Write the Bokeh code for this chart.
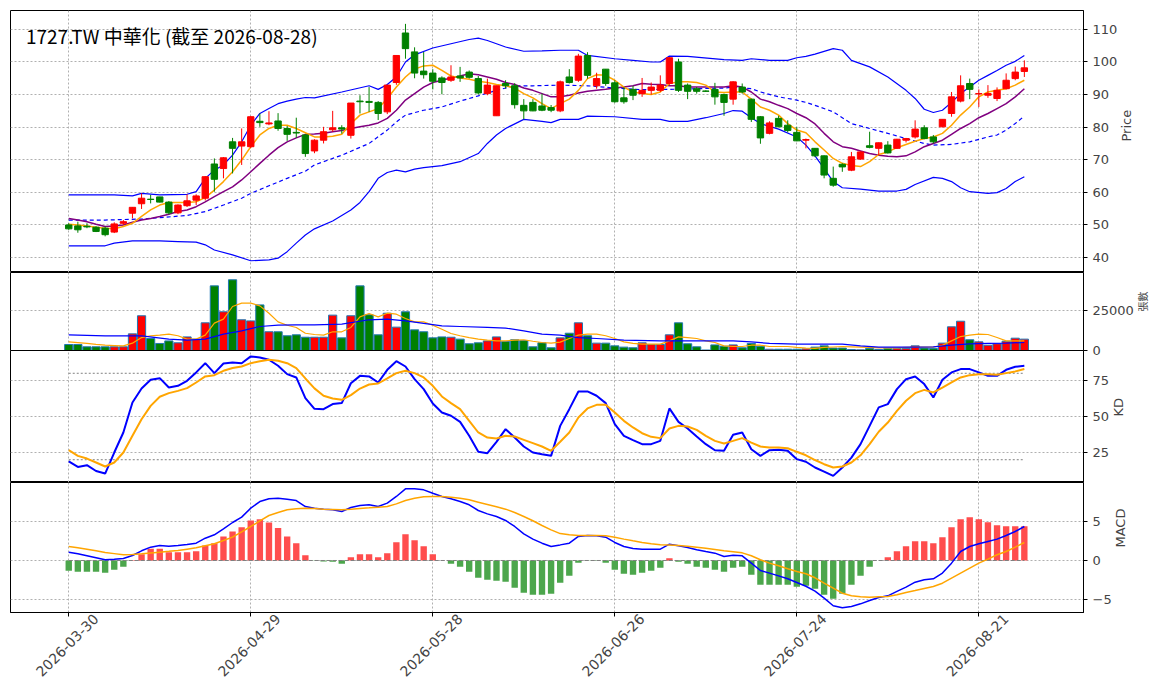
from math import pi

from bokeh.embed import file_html
from bokeh.layouts import column
from bokeh.models import ColumnDataSource, FixedTicker, Label, LinearAxis, Range1d
from bokeh.plotting import figure
from bokeh.resources import INLINE

title = "1727.TW 中華化 (截至 2026-08-28)"
tick_idx = [0, 20, 40, 60, 80, 100]
tick_dates = ["2026-03-30", "2026-04-29", "2026-05-28", "2026-06-26", "2026-07-24", "2026-08-21"]

open_ = [50, 49.7, 49.6, 49.3, 49, 47.8, 50.5, 53.6, 56.5, 57.9, 58.6, 57, 53.7, 55.9, 57.6, 58.2,
         68.7, 67.3, 75.5, 74.2, 74, 81.8, 81, 81.9, 79.6, 78.4, 77.6, 72.7, 76, 79.2, 79.8, 77.5,
         88, 87.9, 87.6, 84.7, 93.7, 108.9, 103.1, 97.2, 96.6, 95.1, 94.4, 95.7, 96.9, 94.9, 90.3,
         83.5, 93.4, 92.7, 86.7, 87.6, 86.5, 86, 85, 95.4, 94.4, 102, 92.7, 97.8, 93.6, 89, 91.6,
         90.3, 91.3, 91.3, 93.4, 100, 92.9, 91.8, 91.1, 91.6, 90, 88.6, 92.3, 88.6, 83.2, 78.1,
         82.7, 80.6, 78.4, 76, 73.5, 71.2, 64.3, 68.6, 66.8, 70.2, 74.3, 73.5, 74.5, 73.5, 76, 77,
         79.8, 77, 80.1, 84.2, 88, 93.4, 90.2, 89.8, 88.8, 91.8, 94.9, 97.1]
high = [50.5, 51, 50.5, 49.6, 49.5, 50.8, 51.5, 55.5, 59.7, 59.2, 58.6, 57.3, 56.3, 59.4, 59.4, 65,
        70.4, 70.8, 76.7, 79.6, 83.4, 84.2, 84.9, 84.3, 80.4, 82.9, 77.8, 76.3, 80.1, 85, 80.6, 87.4,
        89.8, 92.3, 88, 93, 102, 111.7, 104.5, 103.1, 97.8, 95.6, 99, 98.5, 97.4, 95.7, 94.9,
        92.7, 94.4, 93.5, 88.6, 88.6, 90.3, 86.8, 94.3, 97.8, 102.5, 103, 96.7, 97.8, 94.4, 92.3,
        92.7, 95.1, 93.7, 95.9, 101.5, 101, 93.4, 92.3, 91.3, 93.6, 90.3, 94.1, 93.4, 88.7, 83.4,
        81.8, 83.5, 82.1, 80.1, 76.5, 73.6, 71.3, 67.9, 68.9, 72.4, 72.6, 78.6, 75.3, 75.7, 76.4,
        76.7, 82.1, 80.6, 77.6, 82.4, 90.8, 95.9, 94.9, 91.6, 92.9, 92.2, 96.5, 98.6, 100.5]
low = [48.5, 47.6, 49, 47.8, 46.5, 47.5, 50, 52, 54.9, 56.6, 56.9, 53.2, 53.3, 55.5, 56.1, 57.5,
       60.2, 64.3, 65.8, 68.4, 73.6, 80.1, 80.6, 78.9, 75.8, 76.7, 70.9, 72, 75, 78.6, 78, 76.5,
       84.2, 84.7, 82.2, 84, 93, 101, 95, 94.9, 91.6, 90.1, 93.9, 93.9, 94.9, 90, 89.8,
       83.5, 91.8, 85.7, 82.4, 84.9, 84.9, 84.6, 84.6, 93.4, 93.9, 94.9, 91.8, 92.7, 87.5, 87.2,
       88.3, 89.3, 90, 90.8, 93, 90.8, 88.6, 90.3, 90.8, 86.9, 83.5, 86.9, 90.3, 81.6, 74.9,
       77.8, 80.1, 78.4, 75.7, 73.5, 70.8, 64.3, 61.7, 66.3, 66.5, 70, 73.5, 71.4, 71.9, 73.4,
       75.3, 76.5, 76.3, 75, 80, 83.2, 87.6, 88.6, 86.2, 89, 88, 91.6, 94.4, 95.4]
close = [48.8, 48.5, 49.4, 48, 47, 50.3, 51, 55.4, 58.2, 57.8, 57, 53.7, 56.1, 57.4, 58.9, 64.8,
         64, 70.6, 73.5, 75.5, 83.2, 81.4, 81.3, 79.6, 77.8, 78.2, 71.9, 76, 78.6, 79.8, 79.4, 87.4,
         87.8, 87.6, 84.2, 92.9, 102, 104.1, 96.6, 96.1, 94.1, 93.7, 95.4, 95.1, 95.3, 90.5, 92.9,
         92.7, 92.7, 86.9, 85, 85, 85.2, 85.2, 93.9, 93.7, 101.8, 95.9, 94.9, 93.4, 87.8, 87.8,
         89.8, 91.3, 92.3, 92.9, 101.3, 91.3, 91, 91, 91, 89.3, 87.6, 93.9, 90.8, 82.4, 76.7,
         81.3, 80.1, 79, 75.8, 76.2, 71.2, 65.3, 62.2, 67.8, 70.9, 72.4, 73.8, 75.2, 72.1, 76.3,
         76.5, 79.4, 76.5, 75.5, 82.4, 89.3, 92.7, 91.6, 90.3, 90.3, 91.3, 94.4, 96.9, 98.2]

ma_orange = [50.2, 50.0, 49.7, 49.3, 49.0, 48.8, 49.5, 50.5, 52.6, 54.6, 56.1, 56.9, 56.9, 56.9,
             57.1, 58.4, 60.7, 63.3, 66.3, 69.9, 74.0, 77.6, 79.6, 80.6, 80.6, 79.6, 78.3, 77.0,
             77.0, 77.2, 77.8, 81.1, 83.7, 84.7, 85.7, 88.8, 92.3, 95.4, 97.8, 98.8, 99.0, 97.4,
             95.7, 95.1, 94.7, 94.1, 93.7, 93.1, 92.7, 92.0, 90.3, 89.0, 87.2, 85.7, 87.2, 88.6,
             91.3, 94.9, 96.1, 95.9, 94.4, 92.3, 90.8, 90.3, 90.0, 90.8, 93.4, 93.9, 93.9, 93.7,
             92.9, 90.8, 90.6, 90.8, 90.8, 88.6, 86.2, 85.2, 83.7, 81.1, 79.1, 78.3, 75.5, 73.0,
             70.4, 68.9, 68.2, 67.9, 69.4, 71.6, 72.4, 73.7, 74.7, 75.7, 76.5, 77.0, 78.1, 80.6,
             83.7, 86.2, 89.3, 90.8, 91.3, 91.8, 92.9, 94.4]
ma_purple = [52.0, 51.5, 51.0, 50.2, 49.5, 49.7, 50.0, 50.8, 51.5, 52.0, 52.6, 53.3, 54.1, 54.6,
             55.6, 57.1, 58.7, 60.2, 61.7, 63.8, 66.3, 68.9, 71.4, 73.7, 75.5, 76.7, 77.8, 77.9,
             78.1, 78.6, 79.0, 79.6, 80.1, 80.6, 81.3, 82.7, 85.2, 88.3, 90.3, 92.3, 93.7, 94.4,
             95.1, 95.7, 96.4, 96.1, 95.4, 94.7, 93.7, 93.1, 92.0, 91.3, 90.3, 89.3, 89.3, 89.8,
             90.5, 91.0, 91.3, 91.6, 92.0, 92.3, 92.7, 93.4, 93.2, 93.1, 92.7, 92.7, 92.3, 92.3,
             92.3, 92.3, 92.3, 92.7, 92.3, 90.8, 88.6, 87.8, 86.7, 85.7, 84.2, 82.9, 81.0, 78.1,
             75.5, 74.0, 73.5, 72.7, 71.9, 71.4, 71.1, 70.9, 71.2, 72.4, 74.0, 75.0, 76.0, 77.8,
             79.6, 81.1, 82.9, 84.2, 85.7, 87.2, 89.3, 91.8]

bb_up_x = [0, 5, 7, 8, 10, 13, 14, 15, 16, 17, 18, 19, 20, 21, 22, 23, 24, 25, 26, 27, 30, 33, 34,
           35, 36, 37, 38, 40, 42, 44, 45, 46, 48, 50, 52, 54, 56, 57, 60, 62, 64, 65, 66, 68, 72,
           74, 75, 77, 79, 80, 81, 82, 84, 85, 86, 88, 90, 92, 93, 94, 95, 96, 97, 98, 99, 100,
           101, 102, 103, 104, 105]
bb_up = [59.2, 59.2, 58.9, 59.7, 59.2, 59.4, 60.2, 64.3, 66.8, 68.4, 71.4, 75.5, 80.6, 84.2, 85.7,
         87.2, 88.0, 88.6, 89.1, 89.0, 90.8, 92.7, 91.6, 93.1, 95.4, 100.0, 102.2, 104.3, 105.6,
         106.9, 107.3, 106.6, 104.6, 103.3, 103.4, 103.6, 103.6, 102.0, 101.0, 100.5, 100.0, 100.0,
         101.8, 101.7, 100.7, 100.5, 101.0, 100.5, 100.5, 101.3, 101.7, 102.4, 104.1, 103.6, 100.5,
         98.5, 95.4, 91.3, 88.8, 85.5, 84.5, 85.2, 87.6, 90.3, 92.3, 94.4, 95.9, 97.4, 99.0, 100.2,
         102.0]
bb_mid_x = [0, 4, 8, 13, 15, 17, 19, 20, 22, 24, 26, 27, 30, 33, 35, 36, 37, 39, 41, 43, 45, 47,
            49, 51, 54, 57, 60, 63, 66, 69, 72, 73, 75, 76, 78, 80, 81, 82, 84, 86, 88, 90, 92, 94,
            95, 97, 99, 101, 102, 103, 104, 105]
bb_mid = [51.5, 51.5, 51.8, 52.9, 54.1, 56.1, 58.2, 59.7, 62.0, 64.3, 66.5, 68.4, 71.4, 75.0, 79.1,
          81.6, 83.7, 85.2, 86.2, 88.0, 89.6, 91.3, 92.7, 92.7, 92.9, 92.7, 92.0, 91.5, 91.6, 91.8,
          92.0, 92.3, 91.8, 90.8, 89.3, 88.3, 87.6, 86.7, 84.7, 81.1, 79.6, 78.1, 76.5, 75.0, 74.5,
          74.7, 75.5, 77.0, 77.6, 79.1, 81.1, 83.4]
bb_low_x = [0, 4, 5, 7, 10, 12, 14, 15, 16, 18, 20, 22, 23, 24, 25, 26, 27, 29, 31, 32, 33, 34, 35,
            36, 37, 38, 39, 41, 43, 45, 46, 47, 48, 50, 52, 53, 54, 56, 57, 60, 63, 65, 66, 68, 70,
            72, 73, 74, 75, 76, 78, 80, 81, 82, 83, 84, 85, 87, 89, 91, 92, 93, 95, 96, 97, 98, 99,
            101, 102, 103, 104, 105]
bb_low = [43.6, 43.6, 44.4, 45.1, 45.1, 44.9, 44.7, 43.9, 42.3, 40.8, 39.0, 39.3, 39.8, 41.8, 44.4,
          46.9, 48.8, 51.2, 54.6, 56.9, 60.2, 64.3, 66.1, 66.8, 66.3, 67.1, 67.6, 68.2, 69.4, 71.9,
          75.0, 77.6, 79.6, 82.4, 81.8, 81.4, 82.4, 82.4, 83.4, 83.2, 82.4, 82.4, 81.8, 81.8, 82.9,
          84.2, 85.1, 84.9, 82.9, 81.1, 79.4, 77.0, 74.5, 71.2, 67.3, 63.3, 61.4, 61.0, 60.4, 60.4,
          60.9, 62.4, 64.6, 64.3, 63.3, 61.4, 60.2, 59.7, 59.9, 61.2, 63.3, 64.8]

volume = [3750, 3750, 2300, 2300, 2300, 2300, 2300, 10400, 21700, 7500, 4400, 6000, 4800, 8500,
          7100, 17300, 40400, 24200, 44200, 19200, 18500, 28500, 11700, 11700, 9200, 9800, 8300,
          8300, 8300, 22100, 7900, 21700, 40400, 22300, 9800, 23300, 14600, 24200, 12900, 11700,
          7900, 8500, 8300, 7100, 4200, 4800, 6000, 8500, 5600, 6700, 6200, 2300, 4800, 1700, 7900,
          10800, 17300, 9200, 4600, 4600, 2900, 2100, 1700, 4800, 3750, 3750, 9800, 17300, 4200,
          2300, 300, 3500, 2700, 3500, 1700, 4400, 2700, 800, 800, 800, 800, 1000, 2100, 2900,
          1500, 1500, 600, 400, 1200, 600, 1200, 1200, 1200, 2900, 1500, 1200, 4600, 14800, 18300,
          6700, 5400, 3300, 4200, 5800, 7700, 7100]
vol_ma5 = [5400, 4900, 4400, 3800, 3300, 3100, 2900, 4600, 8100, 9200, 9600, 10200, 9200, 7100,
           7100, 9600, 17100, 19600, 27500, 29600, 29600, 27900, 23300, 17900, 15800, 14400, 10800,
           10000, 9600, 11700, 11700, 14400, 21000, 23100, 21000, 23300, 22700, 20000, 17900, 17900,
           15800, 13300, 10600, 9200, 8100, 7100, 6500, 6000, 6000, 6500, 6700, 5800, 5000, 4600,
           5200, 7500, 9600, 10200, 10200, 9200, 7500, 5400, 4400, 4000, 4000, 4000, 6000, 8500,
           8100, 7500, 6000, 5000, 2900, 2500, 2500, 3300, 3300, 2500, 2500, 2500, 1900, 1500, 1300,
           1900, 2200, 2500, 2300, 2100, 1900, 1700, 1700, 1700, 1900, 2100, 2100, 2100, 3300, 6000,
           8700, 9600, 10200, 10000, 8100, 6000, 6000, 6000]
vol_ma20_x = [0, 4, 8, 11, 13, 15, 17, 19, 21, 23, 25, 27, 30, 33, 35, 37, 39, 41, 43, 46, 48, 50,
              52, 54, 56, 58, 61, 65, 69, 73, 75, 77, 80, 82, 85, 87, 89, 93, 95, 97, 99, 101, 103,
              105]
vol_ma20 = [9800, 9200, 9200, 7100, 6500, 7100, 10200, 12300, 15000, 15800, 16000, 16000, 16500,
            19200, 19600, 18500, 16900, 15400, 15000, 14400, 14000, 12300, 10200, 9600, 8100, 7500,
            6500, 6000, 6000, 6000, 5400, 4400, 4000, 4000, 4000, 2900, 2100, 2100, 2300, 3300, 4200,
            4400, 4600, 5000]

k_line = [18.8, 15.0, 16.2, 12.2, 10.4, 25.0, 38.9, 59.7, 69.4, 75.5, 76.6, 70.1, 71.3, 74.8, 80.6,
          87.0, 80.1, 86.8, 87.5, 87.0, 91.7, 91.0, 89.4, 85.2, 79.4, 77.1, 62.8, 55.3, 55.1, 58.6,
          59.3, 73.1, 78.2, 77.8, 73.6, 82.4, 88.4, 84.7, 75.9, 69.0, 59.0, 52.8, 50.5, 46.3, 36.6,
          25.5, 24.5, 32.4, 41.2, 35.4, 29.2, 25.0, 23.8, 22.7, 43.5, 55.1, 67.4, 67.4, 64.4, 59.3,
          44.7, 36.6, 33.6, 30.8, 30.8, 33.1, 55.6, 46.3, 41.7, 36.1, 30.8, 26.6, 26.2, 37.3, 38.9,
          27.3, 22.7, 26.6, 26.9, 26.2, 20.4, 18.6, 14.6, 11.8, 8.8, 14.6, 21.5, 30.8, 43.5, 56.3,
          58.6, 69.0, 75.9, 77.8, 72.5, 63.2, 75.5, 80.6, 82.9, 82.9, 80.6, 78.2, 78.2, 82.4, 84.5,
          85.2]
d_line = [26.6, 22.7, 20.8, 18.1, 15.3, 18.1, 25.0, 36.6, 48.1, 57.4, 63.7, 66.2, 67.8, 69.7, 73.6,
          77.8, 78.7, 81.7, 83.6, 84.7, 87.0, 88.4, 89.4, 88.7, 87.0, 83.6, 76.4, 69.5, 64.4, 62.5,
          61.6, 64.8, 69.4, 72.2, 72.9, 76.4, 80.1, 81.7, 80.1, 77.1, 71.3, 63.9, 59.3, 55.1, 47.0,
          38.9, 35.4, 34.7, 36.6, 36.1, 33.8, 31.5, 29.2, 26.2, 32.5, 38.9, 49.3, 55.6, 58.1, 58.1,
          52.8, 47.0, 42.4, 38.4, 35.9, 35.0, 41.7, 43.5, 43.1, 40.7, 36.6, 33.1, 31.3, 33.1, 35.0,
          31.9, 29.2, 28.5, 28.5, 28.0, 25.5, 23.1, 19.8, 16.9, 14.6, 15.3, 18.1, 23.1, 30.8, 39.4,
          45.8, 53.9, 60.9, 66.2, 68.5, 66.7, 70.1, 73.6, 77.1, 78.7, 79.4, 79.4, 78.9, 80.1, 81.3,
          82.9]

macd_hist = [-1.32, -1.45, -1.45, -1.45, -1.58, -1.2, -0.81, 0.05, 0.81, 1.5, 1.5, 1.07, 1.07, 1.07,
             1.2, 1.92, 2.22, 3.08, 3.72, 4.27, 5.13, 5.3, 4.87, 4.15, 3.08, 2.22, 0.68, -0.02,
             -0.13, -0.17, -0.43, 0.43, 0.81, 0.81, 0.43, 0.94, 2.35, 3.38, 2.61, 1.84, 0.81, 0.0,
             -0.43, -0.81, -1.45, -2.22, -2.48, -2.61, -2.74, -3.5, -4.15, -4.4, -4.4, -4.27, -2.86,
             -1.97, -0.3, -0.04, -0.04, -0.3, -1.2, -1.71, -1.84, -1.58, -1.32, -0.94, 0.3, -0.17,
             -0.43, -0.81, -0.94, -1.2, -1.45, -0.94, -0.81, -1.84, -3.12, -3.12, -3.12, -3.12,
             -3.38, -3.25, -3.63, -4.4, -4.91, -4.27, -3.12, -1.97, -0.81, 0.0, 0.43, 1.2, 1.84,
             2.48, 2.48, 2.22, 2.99, 4.27, 5.3, 5.56, 5.3, 4.91, 4.53, 4.4, 4.4, 4.4]
dif = [1.07, 0.85, 0.6, 0.35, 0.09, 0.15, 0.26, 0.64, 1.24, 1.71, 1.92, 1.84, 1.92, 2.05, 2.22, 2.86,
       3.29, 4.06, 4.87, 5.56, 6.71, 7.56, 7.91, 7.99, 7.86, 7.69, 6.92, 6.71, 6.58, 6.5, 6.28, 6.79,
       7.05, 7.14, 6.92, 7.35, 8.21, 9.19, 9.19, 9.06, 8.63, 8.21, 7.91, 7.56, 7.14, 6.41, 5.98,
       5.64, 5.13, 4.36, 3.42, 2.74, 2.22, 1.79, 2.0, 2.22, 3.08, 3.21, 3.16, 2.99, 2.31, 1.79,
       1.54, 1.45, 1.45, 1.45, 2.09, 1.88, 1.67, 1.37, 1.15, 0.94, 0.51, 0.68, 0.6, -0.34, -1.28,
       -1.62, -1.97, -2.35, -2.82, -3.3, -3.93, -4.83, -5.81, -6.07, -5.9, -5.56, -5.13, -4.74,
       -4.53, -3.97, -3.42, -2.78, -2.48, -2.35, -1.62, -0.34, 1.15, 1.79, 2.14, 2.44, 2.74, 3.21,
       3.72, 4.36]
dea = [1.79, 1.62, 1.45, 1.24, 1.03, 0.88, 0.73, 0.77, 0.85, 0.96, 1.07, 1.17, 1.28, 1.45, 1.62,
       1.88, 2.14, 2.56, 2.99, 3.68, 4.36, 5.07, 5.77, 6.15, 6.5, 6.62, 6.71, 6.67, 6.58, 6.54, 6.5,
       6.58, 6.67, 6.75, 6.84, 6.92, 7.26, 7.69, 7.99, 8.16, 8.21, 8.21, 8.12, 7.99, 7.78, 7.48,
       7.18, 6.88, 6.58, 6.15, 5.64, 5.09, 4.49, 3.93, 3.45, 3.29, 3.21, 3.21, 3.21, 3.16, 2.99,
       2.74, 2.52, 2.31, 2.14, 2.01, 1.97, 1.92, 1.84, 1.71, 1.58, 1.41, 1.24, 1.11, 0.98, 0.6,
       0.09, -0.34, -0.68, -1.07, -1.41, -1.7, -2.22, -2.91, -3.55, -4.19, -4.53, -4.66, -4.7,
       -4.66, -4.62, -4.4, -4.1, -3.85, -3.59, -3.33, -2.91, -2.26, -1.62, -0.98, -0.34, 0.17,
       0.73, 1.15, 1.71, 2.31]

n = len(close)
idx = list(range(n))
up = [c >= o for o, c in zip(open_, close)]
candle_col = ["#ff0000" if u else "#008000" for u in up]
hist_col = ["#ff4d4d" if h >= 0 else "#4ca64c" for h in macd_hist]

src = ColumnDataSource(data=dict(
    x=idx, high=high, low=low, vol=volume, col=candle_col,
    top=[max(o, c) for o, c in zip(open_, close)],
    bottom=[min(o, c) for o, c in zip(open_, close)],
    hist=macd_hist, hcol=hist_col,
))

FONT = "DejaVu Sans"
GRID = "#b0b0b0"
x_range = Range1d(-6.4, 111.5)


def panel(height, y_range, yticks, ylabel, label_size="13px"):
    p = figure(frame_width=1073, frame_height=height, x_range=x_range, y_range=y_range,
               y_axis_location="right", output_backend="svg", toolbar_location=None, tools="",
               min_border_left=10, min_border_top=0, min_border_bottom=0, min_border_right=4)
    p.outline_line_color = "black"
    p.outline_line_alpha = 1
    p.yaxis.ticker = FixedTicker(ticks=yticks)
    p.yaxis.axis_label = ylabel
    p.yaxis.axis_label_orientation = pi / 2
    p.yaxis.axis_label_text_font = "DejaVu Sans"
    p.yaxis.axis_label_text_font_style = "normal"
    p.yaxis.axis_label_text_font_size = label_size
    p.yaxis.axis_label_standoff = 6
    p.yaxis.major_label_text_font = FONT
    p.yaxis.major_label_text_font_size = "13px"
    p.yaxis.minor_tick_line_color = None
    p.yaxis.major_tick_in = 0
    p.yaxis.major_tick_out = 4
    p.xaxis.ticker = FixedTicker(ticks=tick_idx)
    p.xgrid.ticker = FixedTicker(ticks=tick_idx)
    p.ygrid.ticker = FixedTicker(ticks=yticks)
    for g in (p.xgrid, p.ygrid):
        g.grid_line_color = GRID
        g.grid_line_dash = "2 2"
        g.grid_line_width = 1
    return p


# price panel
p1 = panel(262, Range1d(35.4, 115.8), [40, 50, 60, 70, 80, 90, 100, 110], "Price")
p1.min_border_top = 10
p1.xaxis.visible = False
p1.line(bb_up_x, bb_up, color="blue", line_width=1.2)
p1.line(bb_low_x, bb_low, color="blue", line_width=1.2)
p1.line(bb_mid_x, bb_mid, color="blue", line_width=1.2, line_dash="4 3")
p1.line(idx, ma_purple, color="purple", line_width=1.5)
p1.line(idx, ma_orange, color="orange", line_width=1.5)
p1.segment("x", "high", "x", "low", color="col", line_width=1, source=src)
p1.vbar("x", 0.7, "top", "bottom", fill_color="col", line_color="col", source=src)
p1.add_layout(Label(x=-4.7, y=112.4, text=title, text_baseline="top",
                    text_font="Noto Sans CJK TC", text_font_size="19px", text_color="black"))

# volume panel; its canvas runs 9px below the frame so the "0" label is not cut,
# and the KD panel below is pulled up over that strip with a transparent border
p2 = panel(78, Range1d(0, 48750), [0, 25000], "張數", label_size="10px")
p2.yaxis.axis_label_text_font = "Noto Sans CJK TC"
p2.min_border_bottom = 9
p2.xaxis.visible = False
p2.vbar("x", 0.9, "vol", 0, fill_color="col", line_color="#1f77b4", line_width=1, source=src)
p2.line(idx, vol_ma5, color="orange", line_width=1.2)
p2.line(vol_ma20_x, vol_ma20, color="blue", line_width=1.2)

# KD panel
p3 = panel(132, Range1d(4.2, 95.8), [25, 50, 75], "KD")
p3.margin = (-9, 0, 0, 0)
p3.border_fill_alpha = 0
p3.xaxis.visible = False
p3.line([idx[0], idx[-1]], [80, 80], color="gray", line_dash="2 2", line_width=1)
p3.line([idx[0], idx[-1]], [20, 20], color="gray", line_dash="2 2", line_width=1)
p3.line(idx, k_line, color="blue", line_width=2)
p3.line(idx, d_line, color="orange", line_width=2)

# MACD panel
p4 = panel(130, Range1d(-6.67, 10), [-5, 0, 5], "MACD")
p4.vbar("x", 0.7, "hist", 0, fill_color="hcol", line_color=None, source=src)
p4.line([idx[0], idx[-1]], [0, 0], color="gray", line_dash="4 2", line_width=1)
p4.line(idx, dif, color="blue", line_width=1.5)
p4.line(idx, dea, color="orange", line_width=1.5)
p4.xaxis.major_label_overrides = {t: "" for t in tick_idx}
p4.xaxis.major_label_standoff = 0
p4.xaxis.minor_tick_line_color = None
p4.xaxis.major_tick_in = 0
p4.xaxis.major_tick_out = 4

# rotated dates: Bokeh anchors the end of a rotated label on its tick, so a second
# axis carries the labels a few bars to the right to centre them under the ticks
shift = 3
date_axis = LinearAxis(
    ticker=FixedTicker(ticks=[t + shift for t in tick_idx]),
    major_label_overrides={t + shift: d for t, d in zip(tick_idx, tick_dates)},
    major_label_orientation=pi / 4,
    major_label_text_font=FONT,
    major_label_text_font_size="14px",
    major_label_standoff=0,
    major_tick_in=0,
    major_tick_out=0,
    minor_tick_line_color=None,
    axis_line_color=None,
)
p4.add_layout(date_axis, "below")

layout = column(p1, p2, p3, p4)
open("out.html", "w").write(file_html(layout, INLINE))
